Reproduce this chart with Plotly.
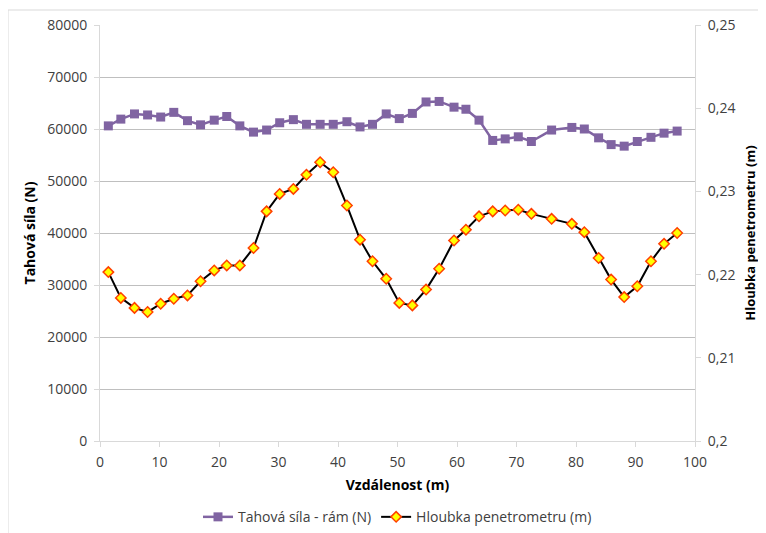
import plotly.graph_objects as go

# distance along the track (m)
distance = [1.4, 3.5, 5.8, 8.0, 10.2, 12.4, 14.7, 16.9, 19.2, 21.3, 23.5, 25.8,
            28.0, 30.2, 32.5, 34.7, 37.0, 39.2, 41.5, 43.7, 45.8, 48.1, 50.3,
            52.5, 54.8, 57.0, 59.5, 61.5, 63.7, 66.0, 68.1, 70.3, 72.5, 75.9,
            79.3, 81.4, 83.8, 85.9, 88.1, 90.3, 92.6, 94.8, 97.0]

# draft force of the frame (N)
force = [60600, 61900, 62900, 62700, 62300, 63200, 61600, 60800, 61700, 62400,
         60600, 59400, 59800, 61200, 61800, 60900, 60900, 60900, 61400, 60400,
         60900, 62900, 62000, 63000, 65200, 65300, 64200, 63800, 61700, 57800,
         58100, 58500, 57600, 59800, 60300, 60000, 58300, 57000, 56700, 57600,
         58400, 59200, 59600]

# penetrometer depth (m)
depth = [0.2203, 0.2172, 0.2160, 0.2155, 0.2165, 0.2171, 0.2175, 0.2192,
         0.2205, 0.2211, 0.2211, 0.2232, 0.2276, 0.2297, 0.2303, 0.2320,
         0.2335, 0.2323, 0.2283, 0.2242, 0.2216, 0.2195, 0.2166, 0.2163,
         0.2182, 0.2207, 0.2241, 0.2254, 0.2270, 0.2276, 0.2277, 0.2278,
         0.2273, 0.2267, 0.2261, 0.2251, 0.2220, 0.2194, 0.2173, 0.2186,
         0.2216, 0.2237, 0.2250]

FONT = "Open Sans"
AXIS = "#d9d9d9"
TEXT = "#404040"

fig = go.Figure()

fig.add_trace(go.Scatter(
    x=distance, y=force, name="Tahová síla - rám (N)",
    mode="lines+markers",
    line=dict(color="#8064a2", width=2.5),
    marker=dict(symbol="square", size=9, color="#8064a2"),
))

fig.add_trace(go.Scatter(
    x=distance, y=depth, name="Hloubka penetrometru (m)",
    yaxis="y2", mode="lines+markers",
    line=dict(color="#000000", width=2),
    marker=dict(symbol="diamond", size=8, color="#ffff00",
                line=dict(color="#ff4000", width=1.5)),
))

# the page body adds an 8px margin, so the figure is 8px smaller than the window
fig.update_layout(
    width=758, height=525,
    margin=dict(l=92, r=71, t=17, b=92),
    paper_bgcolor="white", plot_bgcolor="white",
    separators=", ",
    font=dict(family=FONT, size=14, color=TEXT),
    showlegend=True,
    legend=dict(orientation="h", x=0.5, xanchor="center",
                yref="container", y=0.03, yanchor="middle",
                font=dict(size=14, color=TEXT)),
    xaxis=dict(
        range=[0, 100], dtick=10, showgrid=False, zeroline=False, automargin=False,
        showline=True, linecolor=AXIS, linewidth=1,
        ticks="outside", ticklen=5, tickcolor=AXIS, ticklabelstandoff=3,
        title=dict(text="<b>Vzdálenost (m)</b>", standoff=10,
                   font=dict(size=14, color="#000000")),
    ),
    yaxis=dict(
        range=[0, 80000], dtick=10000, tickformat="d", automargin=False,
        showgrid=True, gridcolor="#bfbfbf", gridwidth=1, zeroline=False,
        showline=True, linecolor=AXIS, linewidth=1,
        ticks="outside", ticklen=5, tickcolor=AXIS, ticklabelstandoff=4,
        title=dict(text="<b>Tahová síla (N)</b>", standoff=8,
                   font=dict(size=14, color="#000000")),
    ),
    yaxis2=dict(
        range=[0.2, 0.25], dtick=0.01, overlaying="y", side="right", automargin=False,
        showgrid=False, zeroline=False,
        showline=True, linecolor=AXIS, linewidth=1,
        ticks="outside", ticklen=5, tickcolor=AXIS, ticklabelstandoff=4,
        title=dict(text="<b>Hloubka penetrometru (m)</b>", standoff=11,
                   font=dict(size=13, color="#000000")),
    ),
    shapes=[dict(type="rect", xref="paper", yref="paper",
                 x0=-92 / 595, x1=700 / 595, y0=-140 / 416, y1=1 + 15 / 416,
                 line=dict(color="#d9d9d9", width=1), layer="below")],
)

fig.write_html("out.html")
